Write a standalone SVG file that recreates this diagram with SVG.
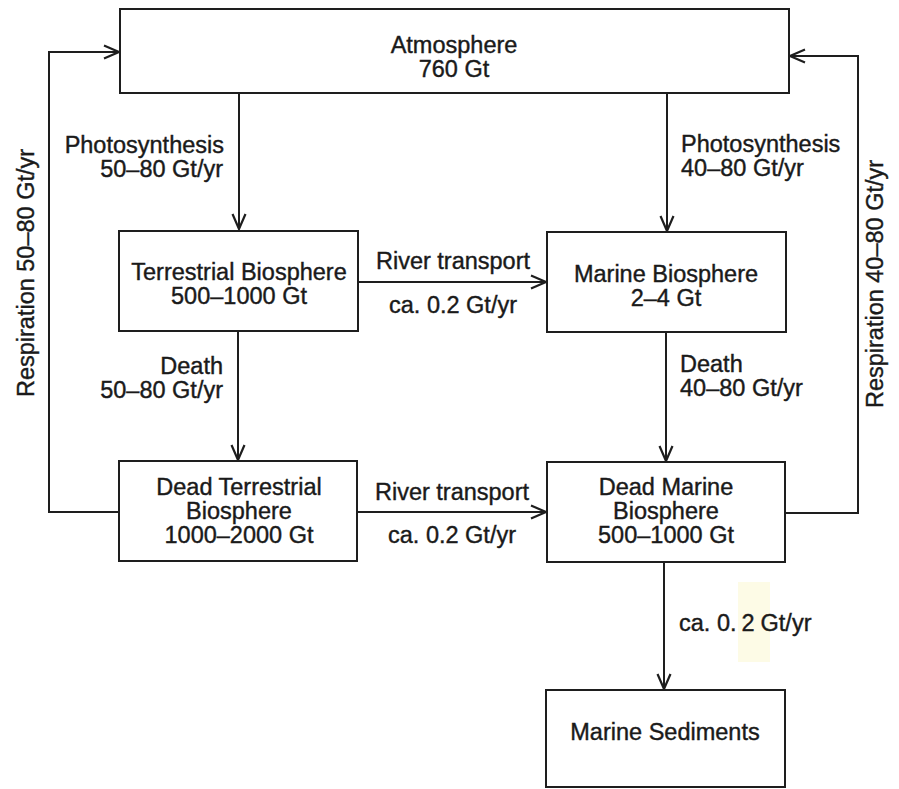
<svg xmlns="http://www.w3.org/2000/svg" width="899" height="789" viewBox="0 0 899 789">
<defs>
<style>
.box{fill:#fff;stroke:#1e1e1e;stroke-width:2}
.con{fill:none;stroke:#1e1e1e;stroke-width:2}
text{font-family:"Liberation Sans",Arial,sans-serif;font-size:23.5px;fill:#1a1a1a;stroke:#1a1a1a;stroke-width:0.4}
.c{text-anchor:middle}
.r{text-anchor:end}
</style>
<marker id="arr" markerUnits="userSpaceOnUse" orient="auto" refX="0" refY="0" markerWidth="20" markerHeight="20" overflow="visible">
<path d="M-15,-6.5 L0,0 L-15,6.5" fill="none" stroke="#1e1e1e" stroke-width="2.2" stroke-linejoin="miter"/>
</marker>
</defs>
<rect width="899" height="789" fill="#fff"/>
<rect x="738" y="582" width="32" height="80" fill="#fdfbe6"/>

<g id="connectors">
<path class="con" d="M239,93 V229" marker-end="url(#arr)"/>
<path class="con" d="M667,93 V231" marker-end="url(#arr)"/>
<path class="con" d="M358,282 H546" marker-end="url(#arr)"/>
<path class="con" d="M238,331 V460" marker-end="url(#arr)"/>
<path class="con" d="M666,332 V461" marker-end="url(#arr)"/>
<path class="con" d="M357,512 H546" marker-end="url(#arr)"/>
<path class="con" d="M664,562 V689" marker-end="url(#arr)"/>
<path class="con" d="M119,512 H49 V52 H119" marker-end="url(#arr)"/>
<path class="con" d="M785,513 H858 V56 H790" marker-end="url(#arr)"/>
<text x="224" y="153" class="r">Photosynthesis</text>
<text x="223" y="177" class="r">50–80 Gt/yr</text>
<text x="681" y="152">Photosynthesis</text>
<text x="681" y="176">40–80 Gt/yr</text>
<text x="453" y="269" class="c">River transport</text>
<text x="453" y="313" class="c">ca. 0.2 Gt/yr</text>
<text x="223" y="374" class="r">Death</text>
<text x="223" y="398" class="r">50–80 Gt/yr</text>
<text x="680" y="372">Death</text>
<text x="680" y="396">40–80 Gt/yr</text>
<text x="452" y="500" class="c">River transport</text>
<text x="452" y="543" class="c">ca. 0.2 Gt/yr</text>
<text x="679" y="631">ca. 0.<tspan dx="5">2</tspan><tspan dx="6">Gt/yr</tspan></text>
<text transform="translate(34,273) rotate(-90)" class="c">Respiration 50–80 Gt/yr</text>
<text transform="translate(883,284) rotate(-90)" class="c">Respiration 40–80 Gt/yr</text>
</g>

<g id="atmosphere">
<rect class="box" x="120" y="9" width="669" height="84"/>
<text x="454" y="53" class="c">Atmosphere</text>
<text x="454" y="77" class="c">760 Gt</text>
</g>
<g id="terrestrial-biosphere">
<rect class="box" x="119" y="231" width="239" height="100"/>
<text x="239" y="280" class="c">Terrestrial Biosphere</text>
<text x="239" y="304" class="c">500–1000 Gt</text>
</g>
<g id="marine-biosphere">
<rect class="box" x="547" y="232" width="239" height="100"/>
<text x="666" y="282" class="c">Marine Biosphere</text>
<text x="666" y="306" class="c">2–4 Gt</text>
</g>
<g id="dead-terrestrial-biosphere">
<rect class="box" x="119" y="461" width="238" height="100"/>
<text x="239" y="495" class="c">Dead Terrestrial</text>
<text x="239" y="519" class="c">Biosphere</text>
<text x="239" y="543" class="c">1000–2000 Gt</text>
</g>
<g id="dead-marine-biosphere">
<rect class="box" x="547" y="462" width="238" height="100"/>
<text x="666" y="495" class="c">Dead Marine</text>
<text x="666" y="519" class="c">Biosphere</text>
<text x="666" y="543" class="c">500–1000 Gt</text>
</g>
<g id="marine-sediments">
<rect class="box" x="546" y="690" width="239" height="97"/>
<text x="665" y="740" class="c">Marine Sediments</text>
</g>
</svg>
